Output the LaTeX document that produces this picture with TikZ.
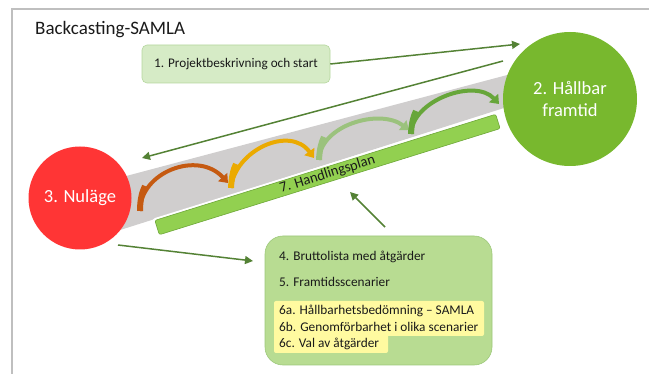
\documentclass[tikz,border=0pt]{standalone}
\usepackage{fontspec}
\setmainfont{Carlito}
\usetikzlibrary{arrows.meta}
\definecolor{frame}{HTML}{BFBFBF}
\definecolor{band}{HTML}{D0CECE}
\definecolor{nured}{HTML}{FF3535}
\definecolor{futgreen}{HTML}{78B82E}
\definecolor{barfill}{HTML}{92D050}
\definecolor{barline}{HTML}{6FA83A}
\definecolor{boxonefill}{HTML}{D6EBC6}
\definecolor{boxoneline}{HTML}{B5D79E}
\definecolor{boxfourfill}{HTML}{B8DC92}
\definecolor{boxfourline}{HTML}{9CC87A}
\definecolor{hl}{HTML}{FFFAA0}
\definecolor{arrowgreen}{HTML}{548235}
\definecolor{arcbrown}{HTML}{C55A11}
\definecolor{arcgold}{HTML}{EBAA00}
\definecolor{arcpale}{HTML}{9BC27D}
\definecolor{arcgreen}{HTML}{67A63A}
\definecolor{txt}{HTML}{1A1A1A}
\tikzset{
  conn/.style={draw=arrowgreen, line width=1.5pt, -{Triangle[length=8pt,width=8pt]}},
  arc/.style={line width=4pt, -{Triangle[length=8pt,width=12pt]}},
  arcbase/.style={line width=6pt},
  circlabel/.style={circle, text=white, font=\fontsize{18.5}{21}\selectfont, align=center, inner sep=0pt},
  boxtext/.style={anchor=west, text=txt, font=\fontsize{13.3}{16}\selectfont, inner sep=0pt},
}
\begin{document}
\begin{tikzpicture}[x=1pt,y=-1pt]
\useasboundingbox (0,0) rectangle (649,374);
% frame
\draw[frame, line width=1.5pt] (12,374) -- (12,9) -- (649,9);
\node[anchor=west, text=txt, font=\fontsize{19}{23}\selectfont, inner sep=0pt] (title) at (35,29.5) {Backcasting-SAMLA};
% band
\fill[band] (90,185.6) -- (560,61) -- (560,90.2) -- (90,239.6) -- cycle;
% bar
\node[rotate=17.3, minimum width=359, minimum height=17, rounded corners=2pt, fill=barfill, draw=white, line width=2.5pt] (barbg) at (327.5,174.5) {};
\node[rotate=17.3, minimum width=357, minimum height=15, rounded corners=2pt, fill=barfill, draw=barline, line width=0.6pt, text=txt, font=\fontsize{14.5}{16}\selectfont, inner sep=0pt] (bar) at (327.5,174.5) {7. Handlingsplan};
% arcs
\draw[arc, arcbrown] (140,211) .. controls (140,172) and (198,150) .. (228,183);
\draw[arcbase, arcbrown] (140,211) .. controls (140,200) and (142,192) .. (145,186);
\draw[arc, arcgold] (231,188) .. controls (235,150) and (290,125) .. (314,158);
\draw[arcbase, arcgold] (231,188) .. controls (231.5,178) and (233,170) .. (236,164);
\draw[arc, arcpale] (319,160) .. controls (320,125) and (380,108) .. (409,130);
\draw[arcbase, arcpale] (319,160) .. controls (319.5,150) and (321,143) .. (324,137);
\draw[arc, arcgreen] (411,134) .. controls (412,100) and (475,78) .. (499,104);
\draw[arcbase, arcgreen] (411,134) .. controls (411.5,124) and (413,117) .. (416,111);
% circles
\node[circlabel, fill=nured, minimum size=103pt] (nu) at (80,198) {3. Nuläge};
\node[circlabel, fill=futgreen, minimum size=134pt] (fut) at (570,99) {2. Hållbar\\[1pt]framtid};
% box 1
\node[rounded corners=5pt, fill=boxonefill, draw=boxoneline, line width=0.6pt, minimum width=188pt, minimum height=38pt, text=txt, font=\fontsize{13.2}{15}\selectfont] (b1) at (236,64) {1. Projektbeskrivning och start};
% box 4
\node[rounded corners=18pt, fill=boxfourfill, draw=boxfourline, line width=0.6pt, minimum width=227pt, minimum height=129pt] (b4) at (378.5,300.5) {};
\fill[hl, rounded corners=2pt] (274,301) rectangle (484,336);
\fill[hl, rounded corners=2pt] (274,333) rectangle (388,353);
\node[boxtext] (t4) at (279,257) {4. Bruttolista med åtgärder};
\node[boxtext] (t5) at (279,282) {5. Framtidsscenarier};
\node[boxtext] (t6a) at (279,310.5) {6a. Hållbarhetsbedömning – SAMLA};
\node[boxtext] (t6b) at (279,327) {6b. Genomförbarhet i olika scenarier};
\node[boxtext] (t6c) at (279,343.5) {6c. Val av åtgärder};
% connectors
\coordinate (futtip) at (520,44);
\coordinate (backstart) at (503,61);
\coordinate (nutip) at (142,158);
\coordinate (nustart) at (118,245);
\coordinate (b4tip) at (253,261);
\coordinate (b4start) at (385,227);
\coordinate (bartip) at (350,192);
\draw[conn] (b1.east) -- (futtip);
\draw[conn] (backstart) -- (nutip);
\draw[conn] (nustart) -- (b4tip);
\draw[conn] (b4start) -- (bartip);
\end{tikzpicture}
\end{document}
